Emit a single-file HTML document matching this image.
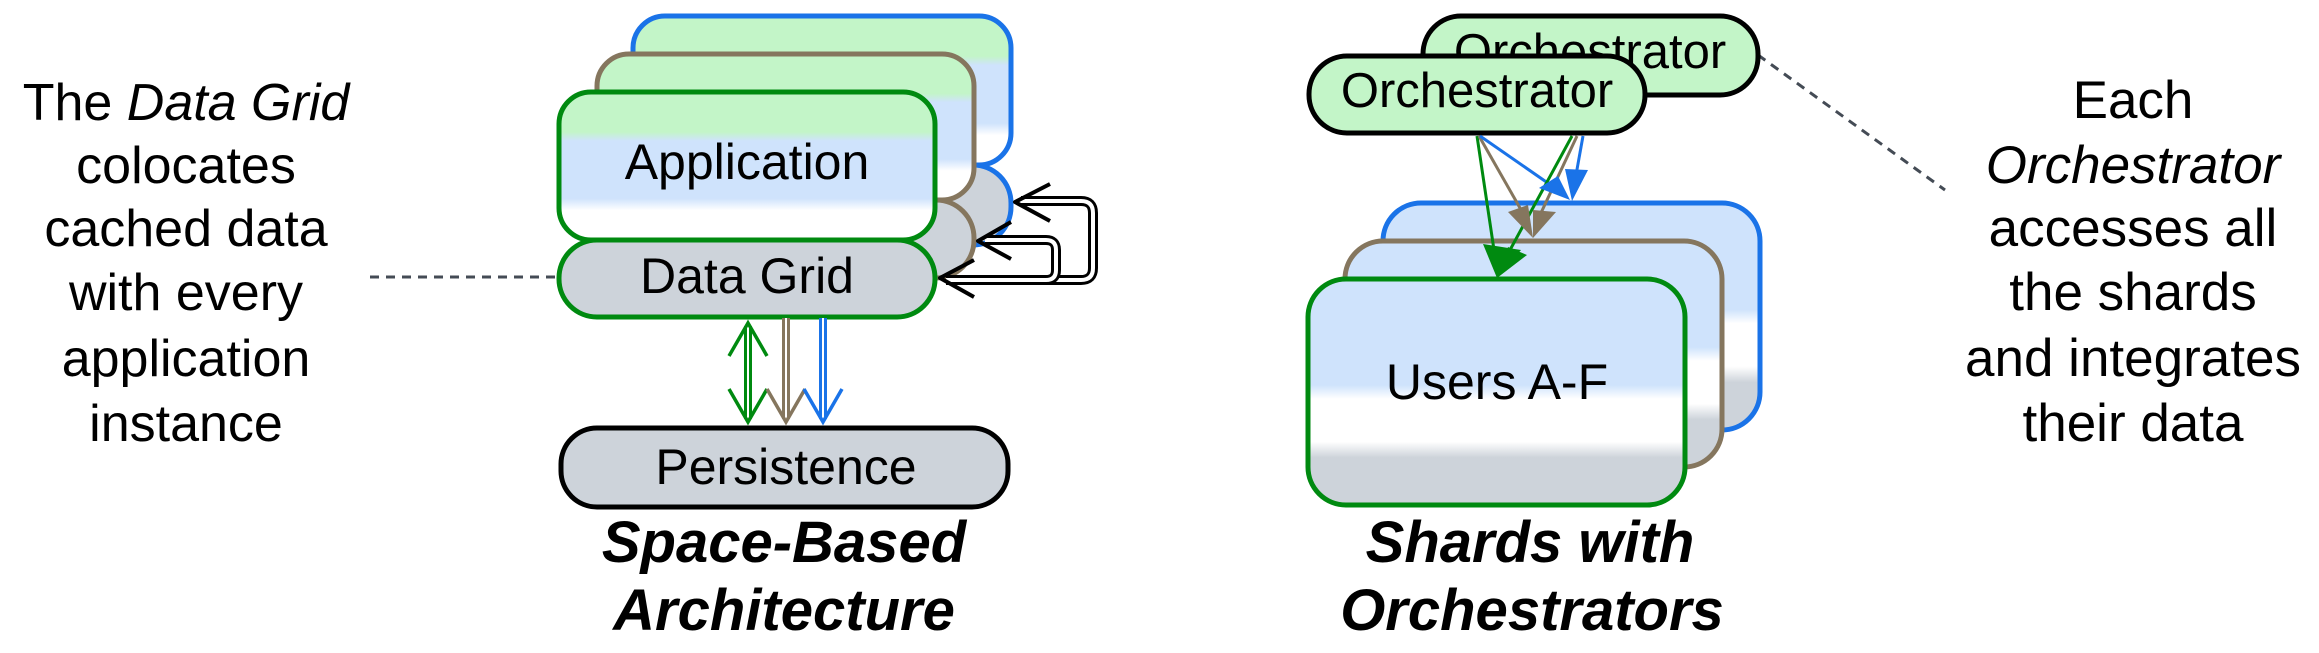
<!DOCTYPE html>
<html><head><meta charset="utf-8"><style>
html,body{margin:0;padding:0;background:#fff;}
svg{display:block;}
text{font-family:"Liberation Sans",sans-serif;}
</style></head><body>
<svg width="2319" height="653" viewBox="0 0 2319 653" xmlns="http://www.w3.org/2000/svg">
<defs>
<linearGradient id="app" x1="0" y1="0" x2="0" y2="1">
<stop offset="0" stop-color="#c3f5c8"/><stop offset="0.27" stop-color="#c3f5c8"/>
<stop offset="0.33" stop-color="#cfe3fc"/><stop offset="0.72" stop-color="#cfe3fc"/>
<stop offset="0.8" stop-color="#ffffff"/><stop offset="1" stop-color="#ffffff"/>
</linearGradient>
<linearGradient id="shard" x1="0" y1="0" x2="0" y2="1">
<stop offset="0" stop-color="#cfe3fc"/><stop offset="0.47" stop-color="#cfe3fc"/>
<stop offset="0.53" stop-color="#ffffff"/><stop offset="0.72" stop-color="#ffffff"/>
<stop offset="0.79" stop-color="#cdd3da"/><stop offset="1" stop-color="#cdd3da"/>
</linearGradient>
</defs>

<line x1="370" y1="277" x2="559" y2="277" stroke="#444b55" stroke-width="3" stroke-dasharray="9,7"/>
<rect x="633" y="165" width="378" height="80" rx="38" fill="#cdd3da" stroke="#1a73e8" stroke-width="5"/>
<rect x="633" y="16" width="378" height="149" rx="32" fill="url(#app)" stroke="#1a73e8" stroke-width="5"/>
<rect x="597" y="200" width="377" height="78" rx="38" fill="#cdd3da" stroke="#85765e" stroke-width="5"/>
<rect x="597" y="54" width="377" height="146" rx="32" fill="url(#app)" stroke="#85765e" stroke-width="5"/>
<rect x="559" y="240" width="376" height="77" rx="38" fill="#cdd3da" stroke="#008a10" stroke-width="5"/>
<rect x="559" y="92" width="376" height="148" rx="32" fill="url(#app)" stroke="#008a10" stroke-width="5"/>
<text x="747" y="179" font-size="50" text-anchor="middle">Application</text>
<text x="747" y="293" font-size="50" text-anchor="middle">Data Grid</text>

<g fill="none" stroke-linejoin="round">
<path d="M1021 201 H1081 Q1093 201 1093 213 V268 Q1093 280 1081 280 H946" stroke="#000" stroke-width="10"/>
<path d="M1021 201 H1081 Q1093 201 1093 213 V268 Q1093 280 1081 280 H946" stroke="#fff" stroke-width="4"/>
<path d="M985 240 H1046 Q1056 240 1056 250 V270 Q1056 280 1046 280 H946" stroke="#000" stroke-width="10"/>
<path d="M985 240 H1046 Q1056 240 1056 250 V270 Q1056 280 1046 280 H946" stroke="#fff" stroke-width="4"/>
<path d="M1050 184 L1015 202 L1050 221" stroke="#000" stroke-width="4"/>
<path d="M1011 222 L978 241 L1011 259" stroke="#000" stroke-width="4"/>
<path d="M974 260 L940 278 L974 297" stroke="#000" stroke-width="4"/>
</g>

<g fill="none">
<line x1="748" y1="326" x2="748" y2="419" stroke="#008a10" stroke-width="8"/>
<line x1="748" y1="326" x2="748" y2="419" stroke="#fff" stroke-width="2"/>
<path d="M729 356 L748 323 L767 356 M729 389 L748 422 L767 389" stroke="#008a10" stroke-width="3.5"/>
<line x1="786" y1="318" x2="786" y2="419" stroke="#85765e" stroke-width="8"/>
<line x1="786" y1="318" x2="786" y2="419" stroke="#fff" stroke-width="2"/>
<path d="M767 389 L786 422 L805 389" stroke="#85765e" stroke-width="3.5"/>
<line x1="823" y1="318" x2="823" y2="419" stroke="#1a73e8" stroke-width="8"/>
<line x1="823" y1="318" x2="823" y2="419" stroke="#fff" stroke-width="2"/>
<path d="M804 389 L823 422 L842 389" stroke="#1a73e8" stroke-width="3.5"/>
</g>
<rect x="561" y="428" width="447" height="79" rx="36" fill="#cdd3da" stroke="#000" stroke-width="5"/>
<text x="786" y="484" font-size="50" text-anchor="middle">Persistence</text>

<text x="784" y="562" font-size="58" font-weight="bold" font-style="italic" text-anchor="middle">Space-Based</text>
<text x="784" y="630" font-size="58" font-weight="bold" font-style="italic" text-anchor="middle">Architecture</text>

<g font-size="52" text-anchor="middle">
<text x="186" y="120">The <tspan font-style="italic">Data Grid</tspan></text>
<text x="186" y="183">colocates</text>
<text x="186" y="246">cached data</text>
<text x="186" y="310">with every</text>
<text x="186" y="376">application</text>
<text x="186" y="441">instance</text>
</g>

<line x1="1758" y1="55" x2="1945" y2="190" stroke="#444b55" stroke-width="3" stroke-dasharray="9,7"/>
<rect x="1383" y="203" width="377" height="227" rx="38" fill="url(#shard)" stroke="#1a73e8" stroke-width="5"/>
<rect x="1345" y="241" width="377" height="226" rx="38" fill="url(#shard)" stroke="#85765e" stroke-width="5"/>
<rect x="1308" y="279" width="377" height="226" rx="38" fill="url(#shard)" stroke="#008a10" stroke-width="5"/>
<text x="1497" y="399" font-size="50" text-anchor="middle">Users A-F</text>

<rect x="1423" y="16" width="335" height="79" rx="38" fill="#c3f5c8" stroke="#000" stroke-width="5"/>
<text x="1590" y="68" font-size="49" text-anchor="middle">Orchestrator</text>
<rect x="1309" y="56" width="336" height="77" rx="38" fill="#c3f5c8" stroke="#000" stroke-width="5"/>
<text x="1477" y="107" font-size="49" text-anchor="middle">Orchestrator</text>

<g stroke-width="3" fill="none">
<line x1="1477" y1="136" x2="1494" y2="250" stroke="#008a10"/>
<line x1="1479" y1="136" x2="1524" y2="215" stroke="#85765e"/>
<line x1="1480" y1="136" x2="1555" y2="188" stroke="#1a73e8"/>
<line x1="1572" y1="136" x2="1510" y2="250" stroke="#008a10"/>
<line x1="1577" y1="136" x2="1540" y2="215" stroke="#85765e"/>
<line x1="1583" y1="136" x2="1576" y2="175" stroke="#1a73e8"/>
</g>
<path d="M1483 244 L1497 278 L1521 250 z" fill="#008a10"/>
<path d="M1508 247 L1497 278 L1527 255 z" fill="#008a10"/>
<path d="M1508 212 L1533 238 L1528 205 z" fill="#85765e"/>
<path d="M1533 210 L1533 238 L1556 212 z" fill="#85765e"/>
<path d="M1539 188 L1570 200 L1558 176 z" fill="#1a73e8"/>
<path d="M1565 169 L1572 201 L1588 170 z" fill="#1a73e8"/>

<text x="1530" y="562" font-size="58" font-weight="bold" font-style="italic" text-anchor="middle">Shards with</text>
<text x="1532" y="630" font-size="58" font-weight="bold" font-style="italic" text-anchor="middle">Orchestrators</text>

<g font-size="53" text-anchor="middle">
<text x="2133" y="118">Each</text>
<text x="2133" y="183" font-style="italic">Orchestrator</text>
<text x="2133" y="246">accesses all</text>
<text x="2133" y="310">the shards</text>
<text x="2133" y="376">and integrates</text>
<text x="2133" y="441">their data</text>
</g>
</svg>
</body></html>
